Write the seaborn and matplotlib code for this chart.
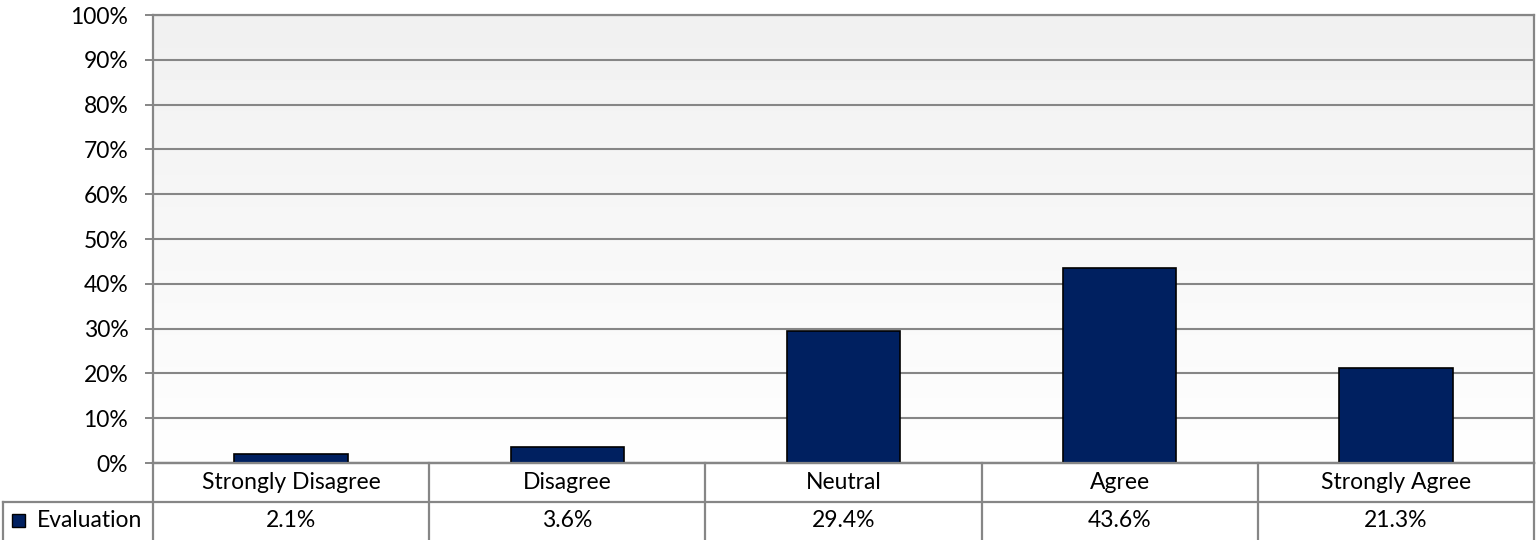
import numpy as np
import pandas as pd
import matplotlib
matplotlib.use("Agg")
import matplotlib.pyplot as plt
import seaborn as sns
from matplotlib.patches import Rectangle
from matplotlib.colors import LinearSegmentedColormap

categories = ["Strongly Disagree", "Disagree", "Neutral", "Agree", "Strongly Agree"]
values = [2.1, 3.6, 29.4, 43.6, 21.3]
value_labels = ["2.1%", "3.6%", "29.4%", "43.6%", "21.3%"]
series_name = "Evaluation"
yticks = [0, 10, 20, 30, 40, 50, 60, 70, 80, 90, 100]

sns.set_theme(style="white")
plt.rcParams['font.family'] = ['Lato', 'DejaVu Sans']

W, H = 1537, 540
fig = plt.figure(figsize=(W / 100, H / 100), dpi=100)
fig.patch.set_facecolor("white")

L, R, T, B = 153, 1534, 15, 463
ax = fig.add_axes([L / W, 1 - B / H, (R - L) / W, (B - T) / H])

GRAY = "#868686"
BAR = "#002060"
FS = 16.5

df = pd.DataFrame({"cat": categories, "val": values})
sns.barplot(data=df, x="cat", y="val", color=BAR, width=0.41, edgecolor="black",
            linewidth=1.2, saturation=1, ax=ax, zorder=3)

ax.set_xlim(-0.5, 4.5)
ax.set_ylim(0, 100)
# gradient background
grad = np.linspace(0, 1, 256).reshape(-1, 1)
cmap = LinearSegmentedColormap.from_list("g", ["#ffffff", "#f1f1f1"])
ax.imshow(grad, extent=(-0.5, 4.5, 0, 100), origin="lower", aspect="auto",
          cmap=cmap, zorder=0)
ax.set_yticks(yticks)
ax.set_yticklabels([f"{v}%" for v in yticks], fontsize=FS, color="black")
ax.yaxis.grid(True, color=GRAY, linewidth=1.5, zorder=1)
ax.set_axisbelow(True)
ax.set_xticks([])
ax.set_xlabel("")
ax.set_ylabel("")
ax.tick_params(axis="y", which="major", length=5.8, width=1.4, color=GRAY,
               left=True, pad=12)
for s in ax.spines.values():
    s.set_color(GRAY)
    s.set_linewidth(1.6)
    s.set_visible(True)

# data table below
tax = fig.add_axes([L / W, 0, (R - L) / W, (H - B) / H])
tax.set_xlim(-0.5, 4.5)
tax.set_ylim(0, 2)
tax.axis("off")
cat_px = (R - L) / 5
leg_left = -0.5 - (L - 3) / cat_px
kw = dict(color=GRAY, linewidth=1.6, clip_on=False, solid_capstyle="projecting")
tax.plot([-0.5, 4.5], [2, 2], **kw)
tax.plot([leg_left, 4.5], [1, 1], **kw)
for i in range(6):
    tax.plot([i - 0.5, i - 0.5], [0, 2], **kw)
tax.plot([leg_left, leg_left], [0, 1], **kw)
for i, (c, v) in enumerate(zip(categories, value_labels)):
    tax.text(i, 1.5, c, ha="center", va="center", fontsize=FS, color="black")
    tax.text(i, 0.5, v, ha="center", va="center", fontsize=FS, color="black")
# legend key
kx = leg_left + 9 / cat_px
tax.add_patch(Rectangle((kx, 0.5 - 0.17), 13 / cat_px, 0.34, facecolor=BAR,
                        edgecolor="black", linewidth=1, clip_on=False))
tax.text(leg_left + 34 / cat_px, 0.5, series_name, ha="left", va="center",
         fontsize=FS, color="black")

fig.savefig("out.png", dpi=100, facecolor="white")
